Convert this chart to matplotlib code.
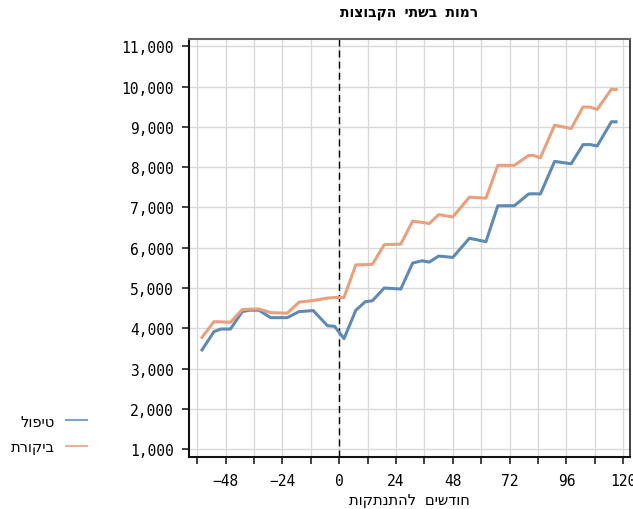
import matplotlib
matplotlib.use("Agg")
import matplotlib.pyplot as plt
from matplotlib.ticker import FuncFormatter, MultipleLocator

# Data (months relative to disengagement)
months = [-58, -53, -50, -46, -41, -38, -34, -29, -22, -17, -11, -5, -2, 2,
          7, 11, 14, 19, 26, 31, 35, 38, 42, 48, 55, 62, 67, 74, 80, 82, 85,
          91, 98, 103, 106, 109, 115, 117]
treatment = [3465, 3915, 3983, 3983, 4415, 4450, 4450, 4265, 4265, 4415, 4440,
             4065, 4050, 3745, 4450, 4660, 4685, 5000, 4975, 5620, 5676, 5643,
             5793, 5760, 6235, 6150, 7042, 7042, 7333, 7340, 7333, 8142, 8083,
             8558, 8560, 8525, 9125, 9125]
control = [3775, 4165, 4160, 4150, 4465, 4475, 4480, 4390, 4375, 4650, 4690,
           4750, 4765, 4765, 5575, 5580, 5590, 6075, 6090, 6660, 6630, 6600,
           6820, 6765, 7255, 7230, 8045, 8045, 8290, 8290, 8233, 9042, 8958,
           9492, 9490, 9433, 9933, 9925]

label_treatment = "טיפול"
label_control = "ביקורת"
title = "רמות בשתי הקבוצות"
xlabel = "חודשים להתנתקות"

BLUE = "#5f8ab4"
ORANGE = "#e8a07e"
FONT = "DejaVu Sans Mono"


def rtl(s):
    # matplotlib has no bidi support, so flip Hebrew strings for display
    return s[::-1]


plt.rcParams['font.family'] = [FONT, 'DejaVu Sans']
plt.rcParams['font.size'] = 10.5

fig = plt.figure(figsize=(6.33, 5.10), dpi=100)
ax = fig.add_axes([0.299, 0.1014, 0.696, 0.8202])

ax.plot(months, treatment, color=BLUE, linewidth=2.2, label=rtl(label_treatment), zorder=3)
ax.plot(months, control, color=ORANGE, linewidth=2.2, label=rtl(label_control), zorder=3)
ax.axvline(0, color='black', linestyle=(0, (5, 3)), linewidth=1.0, zorder=2)

ax.set_xlim(-63.4, 122.8)
ax.set_ylim(800, 11180)

ax.xaxis.set_major_locator(MultipleLocator(12))
ax.yaxis.set_major_locator(MultipleLocator(1000))
ax.xaxis.set_major_formatter(FuncFormatter(
    lambda v, p: f"{int(v)}".replace("-", "\u2212") if int(v) % 24 == 0 else ""))
ax.yaxis.set_major_formatter(FuncFormatter(lambda v, p: f"{int(v):,}"))
ax.tick_params(axis='both', direction='out', length=5, width=1.2, color='#222222',
               labelsize=10.5, pad=6)

ax.grid(True, color='#d9d9d9', linewidth=1.0, zorder=0)
ax.set_axisbelow(True)

ax.spines['left'].set_color('#111111')
ax.spines['bottom'].set_color('#111111')
ax.spines['left'].set_linewidth(1.5)
ax.spines['bottom'].set_linewidth(1.5)
ax.spines['top'].set_color('#666666')
ax.spines['right'].set_color('#222222')
ax.spines['top'].set_linewidth(1.5)
ax.spines['right'].set_linewidth(1.2)

ax.set_title(rtl(title), fontsize=10, fontweight='bold', pad=17)
ax.set_xlabel(rtl(xlabel), fontsize=10.5, labelpad=3)

leg = ax.legend(loc='center right', bbox_to_anchor=(100 / 633, 1 - 435 / 510),
                bbox_transform=fig.transFigure, frameon=False, markerfirst=False,
                handlelength=1.4, handletextpad=0.8, labelspacing=0.75,
                fontsize=10.5)
for line in leg.get_lines():
    line.set_linewidth(1.5)
    line.set_alpha(0.8)

fig.savefig("out.png", dpi=100)
